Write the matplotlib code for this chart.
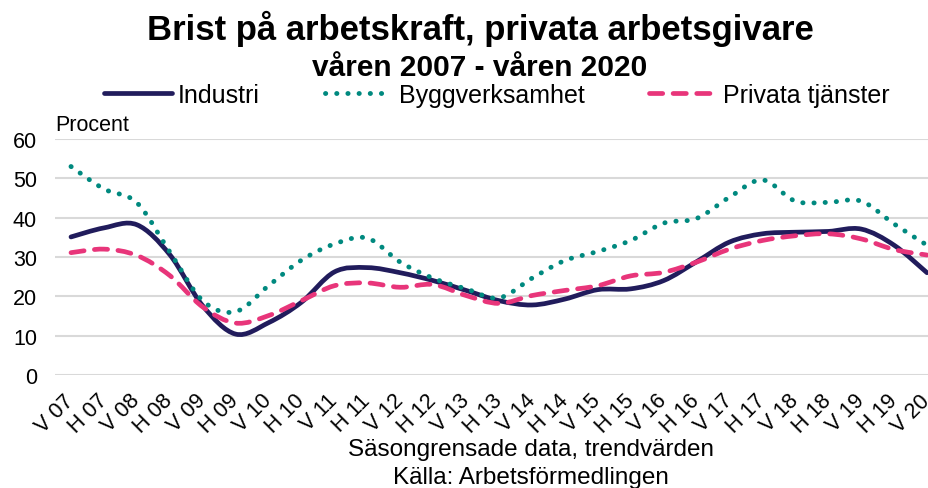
import matplotlib
matplotlib.use("Agg")
import matplotlib.pyplot as plt
from matplotlib.path import Path
from matplotlib.patches import PathPatch
from matplotlib.lines import Line2D

plt.rcParams['font.family'] = ['Liberation Sans', 'DejaVu Sans']

categories = ["V 07", "H 07", "V 08", "H 08", "V 09", "H 09", "V 10", "H 10",
              "V 11", "H 11", "V 12", "H 12", "V 13", "H 13", "V 14", "H 14",
              "V 15", "H 15", "V 16", "H 16", "V 17", "H 17", "V 18", "H 18",
              "V 19", "H 19", "V 20"]

industri = [35.1, 37.4, 38.2, 30.6, 17.6, 10.4, 13.3, 18.5, 26.2, 27.3, 26.0, 24.0,
            21.5, 18.9, 17.8, 19.3, 21.7, 21.9, 24.0, 28.8, 33.8, 35.9, 36.3, 36.5,
            37.1, 33.0, 26.0]
bygg = [53.0, 47.3, 43.8, 31.3, 18.9, 16.1, 22.7, 29.2, 33.3, 34.8, 28.7, 24.6,
        21.9, 19.6, 24.6, 29.1, 31.4, 34.2, 38.6, 39.8, 45.2, 49.6, 44.2, 43.9,
        44.2, 38.4, 33.0]
tjanster = [31.1, 32.0, 30.4, 25.3, 17.3, 13.2, 15.1, 18.9, 22.7, 23.4, 22.3, 23.0,
            20.2, 18.2, 20.2, 21.5, 22.7, 25.2, 26.1, 28.7, 32.0, 34.2, 35.4, 35.9,
            34.6, 31.9, 30.5]

series = [
    ("Industri", industri, dict(color="#211c5c", lw=3.4, dashes=None)),
    ("Byggverksamhet", bygg, dict(color="#00897f", lw=3.5, dashes=(0.05, 2.25))),
    ("Privata tjänster", tjanster, dict(color="#e8357a", lw=3.4, dashes=(2.8, 2.2))),
]

yticks = [0, 10, 20, 30, 40, 50, 60]

W, H = 929, 489
fig = plt.figure(figsize=(W / 100, H / 100), dpi=100)
ax = fig.add_axes([55 / W, 1 - 376 / H, (929 - 55) / W, (376 - 140) / H])


def smooth_path(xs, ys):
    n = len(xs)
    verts = [(xs[0], ys[0])]
    codes = [Path.MOVETO]
    for i in range(n - 1):
        x0, y0 = (xs[i - 1], ys[i - 1]) if i > 0 else (xs[i], ys[i])
        x1, y1 = xs[i], ys[i]
        x2, y2 = xs[i + 1], ys[i + 1]
        x3, y3 = (xs[i + 2], ys[i + 2]) if i + 2 < n else (xs[i + 1], ys[i + 1])
        c1 = (x1 + (x2 - x0) / 6, y1 + (y2 - y0) / 6)
        c2 = (x2 - (x3 - x1) / 6, y2 - (y3 - y1) / 6)
        verts += [c1, c2, (x2, y2)]
        codes += [Path.CURVE4] * 3
    return Path(verts, codes)


xs = list(range(len(categories)))
handles = []
for name, vals, st in series:
    kw = dict(fill=False, edgecolor=st["color"], lw=st["lw"], capstyle="round",
              joinstyle="round", zorder=3)
    patch = PathPatch(smooth_path(xs, vals), **kw)
    if st["dashes"] is not None:
        patch.set_linestyle((0, st["dashes"]))
    ax.add_patch(patch)
    lk = dict(color=st["color"], lw=st["lw"], solid_capstyle="round",
              dash_capstyle="round")
    if st["dashes"] is not None:
        lk["dashes"] = st["dashes"]
    handles.append(Line2D([], [], **lk))

ax.set_xlim(-0.486, 26.06)
ax.set_ylim(0, 60)
ax.set_yticks(yticks)
ax.set_yticklabels([str(v) for v in yticks], fontsize=15.5)
ax.yaxis.grid(True, color="#d9d9d9", lw=1.5)
ax.set_axisbelow(True)
for s in ax.spines.values():
    s.set_visible(False)
ax.tick_params(axis="y", length=0, pad=13, colors="black")
ax.tick_params(axis="x", length=0, pad=16)
ax.set_xticks(xs)
ax.set_xticklabels(categories, fontsize=15.5, rotation=45, ha="right",
                   va="center", rotation_mode="anchor")
ax.patch.set_alpha(0)

fig.text(480 / W, 1 - 40 / H, "Brist på arbetskraft, privata arbetsgivare",
         fontsize=25, fontweight="bold", ha="center", va="baseline")
fig.text(480 / W, 1 - 76 / H, "våren 2007 - våren 2020",
         fontsize=21.5, fontweight="bold", ha="center", va="baseline")
fig.text(55 / W, 1 - 131 / H, "Procent", fontsize=15.5, ha="left", va="baseline")
fig.text(531 / W, 1 - 456 / H, "Säsongrensade data, trendvärden",
         fontsize=17.5, ha="center", va="baseline")
fig.text(531 / W, 1 - 484 / H, "Källa: Arbetsförmedlingen",
         fontsize=17.5, ha="center", va="baseline")

fig.legend(handles, [s[0] for s in series], loc="center", ncol=3,
           bbox_to_anchor=(497 / W, 1 - 96 / H), frameon=False, fontsize=18,
           handlelength=2.7, handletextpad=0.25, columnspacing=2.6,
           borderpad=0, borderaxespad=0)

fig.savefig("out.png", dpi=100)
